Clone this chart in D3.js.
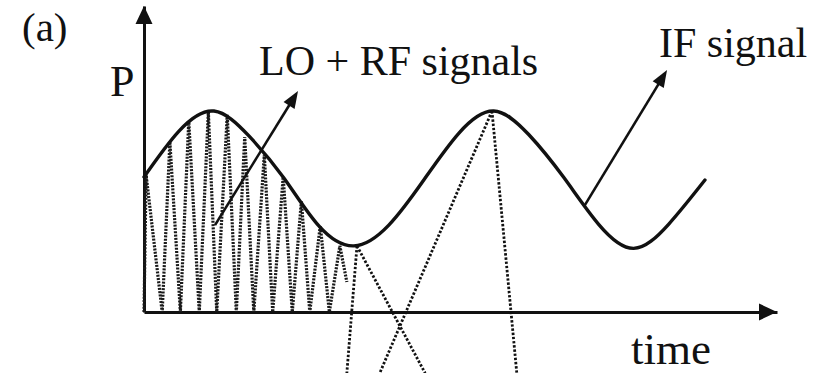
<!DOCTYPE html>
<html>
<head>
<meta charset="utf-8">
<script src="https://cdn.jsdelivr.net/npm/d3@7"></script>
<style>
  html, body { margin: 0; padding: 0; background: #fff; }
  svg { display: block; }
  svg text.label { font-family: 'Liberation Serif', 'Times New Roman' !important; }
</style>
</head>
<body>
<svg id="chart" width="823" height="373"></svg>
<script>
// IF signal envelope: time (arb. units) and power (arb. units)
const ifTime  = [0, 0.5, 1, 1.5, 2, 2.5, 3, 3.5, 4, 4.5, 5, 5.5, 6, 6.5, 7, 7.5, 8.02];
const ifPower = [6.62, 8.87, 9.85, 8.63, 6.57, 4.22, 3.24, 4.26, 6.47, 8.76, 9.85, 8.7, 6.6, 4.3, 3.12, 4.3, 6.47];

// LO + RF fast beat, listed vertex by vertex
const loRfTime  = [0, 0.03, 0.26, 0.37, 0.52, 0.64, 0.79, 0.92, 1.04, 1.19, 1.32, 1.44,
                   1.57, 1.72, 1.84, 1.99, 2.12, 2.25, 2.37, 2.52, 2.65, 2.80, 2.90];
const loRfPower = [0, 6.72, 0, 8.33, 0, 9.36, 0, 9.80, 0, 9.66, 0, 8.58,
                   0, 7.70, 0, 6.62, 0, 5.44, 0, 4.22, 0, 3.24, 1.47];

// Dotted projection lines from the IF extrema
const projStartTime  = [3.045, 3.045, 4.975, 4.975];
const projStartPower = [3.24, 3.24, 9.85, 9.85];
const projEndTime    = [2.90, 4.02, 3.37, 5.33];
const projEndPower   = [-3, -3, -3, -3];

// Pointer arrows for the two signal labels
const pointerStartTime  = [1.015, 6.305];
const pointerStartPower = [4.26, 5.25];
const pointerEndTime    = [2.202, 7.478];
const pointerEndPower   = [10.83, 11.86];

// Labels
const labelText  = ["(a)", "P", "LO + RF signals", "IF signal", "time"];
const labelX     = [22, 110, 259, 659, 631];
const labelY     = [41, 96, 75, 57, 364];
const labelSize  = [41, 44, 42, 42, 45];

const svg = d3.select("#chart");

const x = d3.scaleLinear().domain([0, 9.05]).range([144, 777]);
const y = d3.scaleLinear().domain([0, 15]).range([312, 6]);

// Text first, so the labels sit in their own group
svg.append("g").attr("id", "labels").selectAll("text")
  .data(labelText)
  .join("text")
  .attr("class", "label")
  .attr("x", (d, i) => labelX[i])
  .attr("y", (d, i) => labelY[i])
  .attr("font-family", "Liberation Serif")
  .attr("font-size", (d, i) => labelSize[i])
  .style("font-family", "'Liberation Serif'")
  .attr("fill", "#111")
  .text(d => d);

// Axes without ticks: only the domain lines remain
const xAxis = svg.append("g")
  .attr("transform", `translate(0,${y(0)})`)
  .call(d3.axisBottom(x).tickValues([]).tickSizeOuter(0));
const yAxis = svg.append("g")
  .attr("transform", `translate(${x(0)},0)`)
  .call(d3.axisLeft(y).tickValues([]).tickSizeOuter(0));
[xAxis, yAxis].forEach(g => g.select(".domain")
  .attr("stroke", "#111").attr("stroke-width", 3));

// Arrowheads as filled triangles
function arrowHead(x1, y1, x2, y2, len, half) {
  const a = Math.atan2(y2 - y1, x2 - x1);
  const bx = x2 - len * Math.cos(a), by = y2 - len * Math.sin(a);
  const px = -Math.sin(a) * half, py = Math.cos(a) * half;
  const p = d3.path();
  p.moveTo(x2, y2);
  p.lineTo(bx + px, by + py);
  p.lineTo(bx - px, by - py);
  p.closePath();
  return p.toString();
}
svg.append("path")
  .attr("d", arrowHead(x(0), y(0), x(9.05), y(0), 18, 8.5))
  .attr("fill", "#111");
svg.append("path")
  .attr("d", arrowHead(x(0), y(0), x(0), y(15), 18, 8.5))
  .attr("fill", "#111");

// LO + RF beat (dotted zigzag)
const loRf = d3.range(loRfTime.length).map(i => [loRfTime[i], loRfPower[i]]);
svg.append("path")
  .datum(loRf)
  .attr("d", d3.line().x(d => x(d[0])).y(d => y(d[1])))
  .attr("fill", "none")
  .attr("stroke", "#1a1a1a")
  .attr("stroke-width", 3.2)
  .attr("stroke-dasharray", "2,1.3");

// Projection lines
svg.append("g").selectAll("line")
  .data(d3.range(projStartTime.length))
  .join("line")
  .attr("x1", i => x(projStartTime[i]))
  .attr("y1", i => y(projStartPower[i]))
  .attr("x2", i => x(projEndTime[i]))
  .attr("y2", i => y(projEndPower[i]))
  .attr("stroke", "#111")
  .attr("stroke-width", 2.8)
  .attr("stroke-dasharray", "2.4,1.8");

// IF signal
const ifData = d3.range(ifTime.length).map(i => [ifTime[i], ifPower[i]]);
svg.append("path")
  .datum(ifData)
  .attr("d", d3.line().curve(d3.curveNatural).x(d => x(d[0])).y(d => y(d[1])))
  .attr("fill", "none")
  .attr("stroke", "#111")
  .attr("stroke-width", 3.4)
  .attr("stroke-linecap", "round");

// Pointer arrows
d3.range(pointerStartTime.length).forEach(i => {
  const x1 = x(pointerStartTime[i]), y1 = y(pointerStartPower[i]);
  const x2 = x(pointerEndTime[i]),   y2 = y(pointerEndPower[i]);
  const a = Math.atan2(y2 - y1, x2 - x1);
  svg.append("line")
    .attr("x1", x1).attr("y1", y1)
    .attr("x2", x2 - 12 * Math.cos(a)).attr("y2", y2 - 12 * Math.sin(a))
    .attr("stroke", "#111").attr("stroke-width", 2.6);
  svg.append("path")
    .attr("d", arrowHead(x1, y1, x2, y2, 17, 6.5))
    .attr("fill", "#111");
});
</script>
</body>
</html>
